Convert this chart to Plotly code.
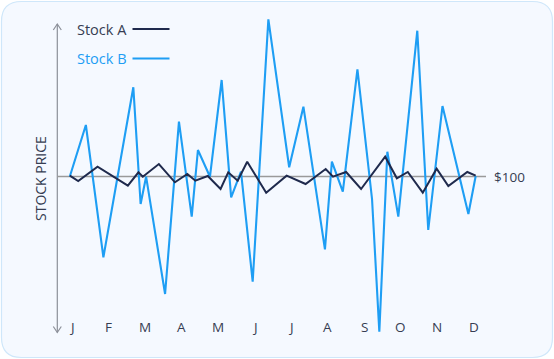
import plotly.graph_objects as go

W, H = 554, 359

months = ["J", "F", "M", "A", "M", "J", "J", "A", "S", "O", "N", "D"]
month_pos = list(range(12))

stock_b_x = [-0.06, 0.38, 0.86, 1.68, 1.88, 2.03, 2.55, 2.93, 3.28, 3.45, 3.78, 4.10,
             4.36, 4.63, 4.95, 5.38, 5.95, 6.34, 6.93, 7.12, 7.42, 7.82, 8.22, 8.42,
             8.64, 8.94, 9.46, 9.76, 10.15, 10.86, 11.06]
stock_b_y = [100.0, 105.15, 91.92, 108.92, 97.25, 99.98, 88.25, 105.48, 95.98, 102.65,
             99.98, 109.65, 97.92, 100.48, 89.48, 115.72, 100.92, 106.98, 92.72, 101.48,
             98.48, 110.72, 97.75, 84.48, 102.48, 95.98, 114.58, 94.65, 107.05, 96.25,
             100.05]

stock_a_x = [-0.06, 0.17, 0.70, 1.53, 1.82, 1.94, 2.38, 2.82, 3.16, 3.38, 3.72, 4.07,
             4.28, 4.54, 4.80, 5.32, 5.88, 6.40, 6.95, 7.15, 7.51, 7.92, 8.58, 8.90,
             9.20, 9.61, 9.99, 10.31, 10.83, 11.06]
stock_a_y = [100.08, 99.55, 100.98, 99.08, 100.42, 99.98, 101.25, 99.42, 100.25, 99.58,
             100.05, 98.75, 100.42, 99.58, 101.48, 98.38, 100.08, 99.25, 100.75, 99.98,
             100.45, 98.75, 101.98, 99.82, 100.45, 98.38, 100.78, 99.05, 100.45, 100.08]

baseline_value = 100
baseline_label = "$100"
series_names = ["Stock A", "Stock B"]
y_title = "STOCK PRICE"

COL_A = "#1f2a4d"
COL_B = "#1e9ef4"
TEXT = "#363d52"
AXIS = "#8c9099"

# pixel <-> data mapping (plot area = full figure)
X0_PX, X_PER = 72.0, 36.5
Y0_PX, Y_PER = 176.5, 10.0
x_range = [(0 - X0_PX) / X_PER, (W - X0_PX) / X_PER]
y_range = [baseline_value - (H - Y0_PX) / Y_PER, baseline_value + Y0_PX / Y_PER]


def px(x):
    return x / W


def py(y):
    return 1 - y / H


fig = go.Figure()
fig.add_trace(go.Scatter(x=stock_b_x, y=stock_b_y, mode="lines", name=series_names[1],
                         line=dict(color=COL_B, width=2.1), hoverinfo="skip"))
fig.add_trace(go.Scatter(x=stock_a_x, y=stock_a_y, mode="lines", name=series_names[0],
                         line=dict(color=COL_A, width=2), hoverinfo="skip"))

shapes = []
# card background
x1, y1, x2, y2, r = 1.5, 1.5, 552.5, 357.5, 20
path = (f"M {px(x1 + r)} {py(y1)} L {px(x2 - r)} {py(y1)} "
        f"Q {px(x2)} {py(y1)} {px(x2)} {py(y1 + r)} L {px(x2)} {py(y2 - r)} "
        f"Q {px(x2)} {py(y2)} {px(x2 - r)} {py(y2)} L {px(x1 + r)} {py(y2)} "
        f"Q {px(x1)} {py(y2)} {px(x1)} {py(y2 - r)} L {px(x1)} {py(y1 + r)} "
        f"Q {px(x1)} {py(y1)} {px(x1 + r)} {py(y1)} Z")
shapes.append(dict(type="path", xref="paper", yref="paper", path=path,
                   fillcolor="#f5f9ff", line=dict(color="#cfe7fa", width=1.2), layer="below"))
# y axis line with chevrons
ax_x = 57.3
shapes.append(dict(type="line", xref="paper", yref="paper", x0=px(ax_x), x1=px(ax_x),
                   y0=py(24), y1=py(332.5), line=dict(color=AXIS, width=1.2), layer="below"))
shapes.append(dict(type="path", xref="paper", yref="paper",
                   path=f"M {px(53.3)} {py(30)} L {px(ax_x)} {py(24)} L {px(61.3)} {py(30)}",
                   line=dict(color=AXIS, width=1.2), layer="below"))
shapes.append(dict(type="path", xref="paper", yref="paper",
                   path=f"M {px(53.3)} {py(326.5)} L {px(ax_x)} {py(332.5)} L {px(61.3)} {py(326.5)}",
                   line=dict(color=AXIS, width=1.2), layer="below"))
# baseline
shapes.append(dict(type="line", xref="paper", yref="y", x0=px(ax_x), x1=px(486),
                   y0=baseline_value, y1=baseline_value,
                   line=dict(color="#9a9a9a", width=1.5), layer="below"))
# legend lines
shapes.append(dict(type="line", xref="paper", yref="paper", x0=px(132.5), x1=px(169.5),
                   y0=py(29), y1=py(29), line=dict(color=COL_A, width=2)))
shapes.append(dict(type="line", xref="paper", yref="paper", x0=px(132.5), x1=px(169.5),
                   y0=py(58.5), y1=py(58.5), line=dict(color=COL_B, width=2)))

annotations = []
for m, lab in zip(month_pos, months):
    annotations.append(dict(x=m, y=py(327), xref="x", yref="paper", text=lab, showarrow=False,
                            font=dict(family="Open Sans", size=13.5, color=TEXT),
                            xanchor="center", yanchor="middle"))
annotations.append(dict(x=px(491.5), y=baseline_value, xref="paper", yref="y", text=baseline_label,
                        showarrow=False, font=dict(family="Open Sans", size=13.5, color=TEXT),
                        xanchor="left", yanchor="middle"))
annotations.append(dict(x=px(40), y=py(179), xref="paper", yref="paper", text=y_title,
                        textangle=-90, showarrow=False,
                        font=dict(family="Open Sans", size=14, color=TEXT),
                        xanchor="center", yanchor="middle"))
annotations.append(dict(x=px(75), y=py(29), xref="paper", yref="paper", text=series_names[0],
                        showarrow=False, font=dict(family="Open Sans", size=14.5, color=TEXT),
                        xanchor="left", yanchor="middle"))
annotations.append(dict(x=px(75), y=py(58.5), xref="paper", yref="paper", text=series_names[1],
                        showarrow=False, font=dict(family="Open Sans", size=14.5, color=COL_B),
                        xanchor="left", yanchor="middle"))

fig.update_layout(
    width=W, height=H, margin=dict(l=0, r=0, t=0, b=0),
    paper_bgcolor="white", plot_bgcolor="rgba(0,0,0,0)",
    showlegend=False,
    xaxis=dict(range=x_range, visible=False, fixedrange=True),
    yaxis=dict(range=y_range, visible=False, fixedrange=True),
    shapes=shapes, annotations=annotations,
)

fig.write_html("out.html", config={"displayModeBar": False})
